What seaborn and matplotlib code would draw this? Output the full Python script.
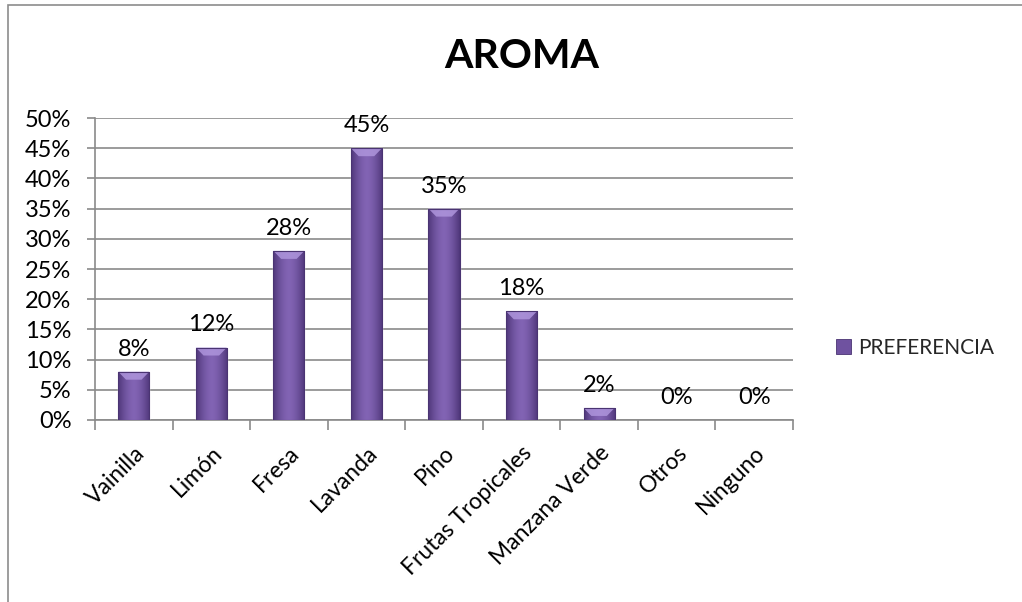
import numpy as np
import pandas as pd
import matplotlib
matplotlib.use("Agg")
import matplotlib.pyplot as plt
from matplotlib.patches import Rectangle, Patch, Polygon
import seaborn as sns

categories = ["Vainilla", "Limón", "Fresa", "Lavanda", "Pino",
              "Frutas Tropicales", "Manzana Verde", "Otros", "Ninguno"]
preferencia = [8, 12, 28, 45, 35, 18, 2, 0, 0]
y_ticks = [0, 5, 10, 15, 20, 25, 30, 35, 40, 45, 50]
series_name = "PREFERENCIA"
title = "AROMA"

sns.set_theme(style="white")
plt.rcParams["font.family"] = ["Lato", "DejaVu Sans"]

BAR = "#6f52a0"
EDGE_DARK = np.array([0x4f, 0x37, 0x7a]) / 255
MID_LIGHT = np.array([0x82, 0x64, 0xb4]) / 255
GRID = "#8a8a8a"

fig = plt.figure(figsize=(10.22, 6.02), dpi=100)
ax = fig.add_axes([95 / 1022, 1 - 420 / 602, 698 / 1022, 302 / 602])

df = pd.DataFrame({"aroma": categories, "valor": preferencia})
sns.barplot(data=df, x="aroma", y="valor", color=BAR, width=0.4,
            saturation=1, ax=ax, zorder=3)

ax.set_xlim(-0.5, len(categories) - 0.5)
ax.set_ylim(0, 50)
ax.set_yticks(y_ticks)
ax.set_yticklabels([f"{v}%" for v in y_ticks], fontsize=17)
ax.yaxis.grid(True, color=GRID, lw=1.2, zorder=0)
ax.set_axisbelow(True)
ax.set_xlabel("")
ax.set_ylabel("")

for side in ["top", "right"]:
    ax.spines[side].set_visible(False)
for side in ["left", "bottom"]:
    ax.spines[side].set_color(GRID)
    ax.spines[side].set_linewidth(1.2)

ax.tick_params(axis="y", direction="out", length=6, width=1.2, color=GRID,
               left=True, pad=11, labelcolor="black")
ax.set_xticks(range(len(categories)))
ax.set_xticklabels(categories, rotation=45, ha="right", rotation_mode="anchor",
                   fontsize=16.5)
ax.tick_params(axis="x", which="major", length=0, pad=16, labelcolor="black")
ax.set_xticks(np.arange(-0.5, len(categories), 1.0), minor=True)
ax.tick_params(axis="x", which="minor", direction="out", length=7, width=1.2,
               color=GRID, bottom=True)

# shaded cylinder-like fill for each bar
grad_x = np.linspace(-1, 1, 64)
shade = 1 - np.abs(grad_x) ** 1.6
rgb = EDGE_DARK[None, :] + (MID_LIGHT - EDGE_DARK)[None, :] * shade[:, None]
img = rgb[None, :, :]
bevel_h = 8 / 302 * 50
for p, v in zip(ax.patches, preferencia):
    if v <= 0:
        p.set_visible(False)
        continue
    x0, w, h = p.get_x(), p.get_width(), p.get_height()
    im = ax.imshow(img, extent=(x0, x0 + w, 0, h), aspect="auto",
                   interpolation="bilinear", zorder=3.5)
    im.set_clip_path(p)
    bh = min(bevel_h, h)
    inset = w * 0.25
    bevel = Polygon([(x0, h), (x0 + w, h), (x0 + w - inset, h - bh),
                     (x0 + inset, h - bh)], closed=True,
                    facecolor="#ae95dc", edgecolor="none", alpha=0.85, zorder=3.6)
    ax.add_patch(bevel)
    edge = Rectangle((x0, 0), w, h, fill=False, edgecolor="#4a3472",
                     lw=0.8, zorder=3.7)
    ax.add_patch(edge)

for i, v in enumerate(preferencia):
    ax.text(i, v + 2.0, f"{v}%", ha="center", va="bottom", fontsize=17,
            color="black", zorder=5)

ax.set_ylim(0, 50)

fig.text(522 / 1022, 1 - 57 / 602, title, ha="center", va="center",
         fontsize=29.5, fontweight="bold", color="black")

handle = Patch(facecolor=BAR, edgecolor="#4a3472", lw=0.6)
fig.legend([handle], [series_name], loc="center left",
           bbox_to_anchor=(821 / 1022, 1 - 348 / 602), frameon=False,
           fontsize=15, handlelength=0.75, handleheight=0.75, handletextpad=0.35,
           borderpad=0.2)

fig.patches.append(Rectangle((8 / 1022, -0.05), 1.2, 1 - 5 / 602 + 0.05,
                             transform=fig.transFigure, fill=False,
                             edgecolor="#8c8c8c", lw=1.2, zorder=0))

fig.savefig("out.png", dpi=100, facecolor="white")
